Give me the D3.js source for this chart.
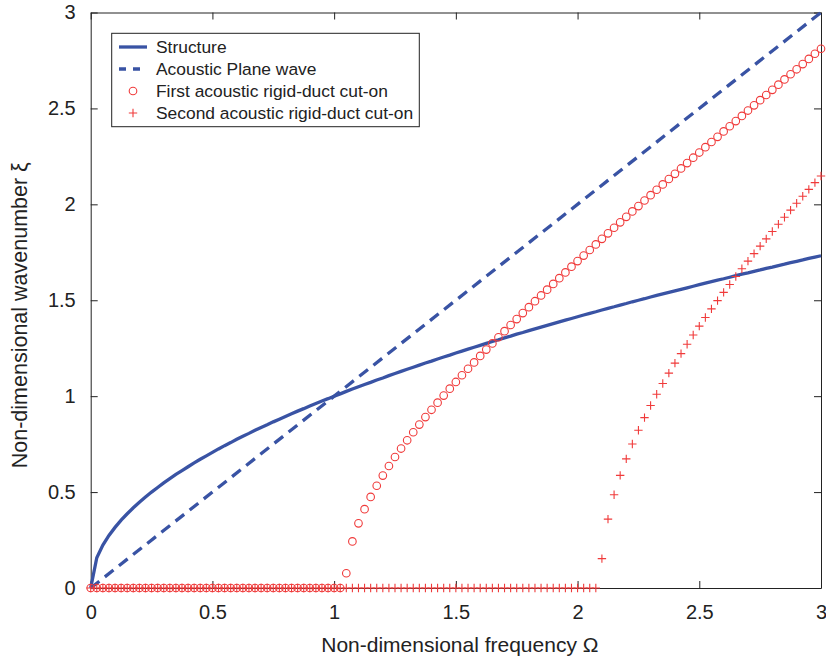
<!DOCTYPE html>
<html>
<head>
<meta charset="utf-8">
<style>
  body { margin: 0; background: #fff; }
  svg { display: block; font-family: "Liberation Sans", Arial, sans-serif; }
</style>
</head>
<body>
<script src="https://d3js.org/d3.v7.min.js"></script>
<script>
const omega = [
  0, 0.025, 0.05, 0.075, 0.1, 0.125, 0.15, 0.175, 0.2, 0.225,
  0.25, 0.275, 0.3, 0.325, 0.35, 0.375, 0.4, 0.425, 0.45, 0.475,
  0.5, 0.525, 0.55, 0.575, 0.6, 0.625, 0.65, 0.675, 0.7, 0.725,
  0.75, 0.775, 0.8, 0.825, 0.85, 0.875, 0.9, 0.925, 0.95, 0.975,
  1, 1.025, 1.05, 1.075, 1.1, 1.125, 1.15, 1.175, 1.2, 1.225,
  1.25, 1.275, 1.3, 1.325, 1.35, 1.375, 1.4, 1.425, 1.45, 1.475,
  1.5, 1.525, 1.55, 1.575, 1.6, 1.625, 1.65, 1.675, 1.7, 1.725,
  1.75, 1.775, 1.8, 1.825, 1.85, 1.875, 1.9, 1.925, 1.95, 1.975,
  2, 2.025, 2.05, 2.075, 2.1, 2.125, 2.15, 2.175, 2.2, 2.225,
  2.25, 2.275, 2.3, 2.325, 2.35, 2.375, 2.4, 2.425, 2.45, 2.475,
  2.5, 2.525, 2.55, 2.575, 2.6, 2.625, 2.65, 2.675, 2.7, 2.725,
  2.75, 2.775, 2.8, 2.825, 2.85, 2.875, 2.9, 2.925, 2.95, 2.975,
  3
];

const structure = [
  0, 0.158, 0.224, 0.274, 0.316, 0.354, 0.387, 0.418, 0.447, 0.474,
  0.5, 0.524, 0.548, 0.57, 0.592, 0.612, 0.632, 0.652, 0.671, 0.689,
  0.707, 0.725, 0.742, 0.758, 0.775, 0.791, 0.806, 0.822, 0.837, 0.851,
  0.866, 0.88, 0.894, 0.908, 0.922, 0.935, 0.949, 0.962, 0.975, 0.987,
  1, 1.012, 1.025, 1.037, 1.049, 1.061, 1.072, 1.084, 1.095, 1.107,
  1.118, 1.129, 1.14, 1.151, 1.162, 1.173, 1.183, 1.194, 1.204, 1.214,
  1.225, 1.235, 1.245, 1.255, 1.265, 1.275, 1.285, 1.294, 1.304, 1.313,
  1.323, 1.332, 1.342, 1.351, 1.36, 1.369, 1.378, 1.387, 1.396, 1.405,
  1.414, 1.423, 1.432, 1.44, 1.449, 1.458, 1.466, 1.475, 1.483, 1.492,
  1.5, 1.508, 1.517, 1.525, 1.533, 1.541, 1.549, 1.557, 1.565, 1.573,
  1.581, 1.589, 1.597, 1.605, 1.612, 1.62, 1.628, 1.636, 1.643, 1.651,
  1.658, 1.666, 1.673, 1.681, 1.688, 1.696, 1.703, 1.71, 1.718, 1.725,
  1.732
];

const planeOmega = [0, 3];
const planeWave = [0, 3];

const firstCutOn = [
  0, 0, 0, 0, 0, 0, 0, 0, 0, 0,
  0, 0, 0, 0, 0, 0, 0, 0, 0, 0,
  0, 0, 0, 0, 0, 0, 0, 0, 0, 0,
  0, 0, 0, 0, 0, 0, 0, 0, 0, 0,
  0, 0, 0.077, 0.243, 0.337, 0.411, 0.475, 0.533, 0.586, 0.636,
  0.683, 0.727, 0.77, 0.812, 0.852, 0.891, 0.929, 0.966, 1.003, 1.039,
  1.074, 1.109, 1.143, 1.176, 1.21, 1.243, 1.275, 1.307, 1.339, 1.371,
  1.402, 1.433, 1.464, 1.495, 1.525, 1.555, 1.585, 1.615, 1.645, 1.675,
  1.704, 1.733, 1.762, 1.791, 1.82, 1.849, 1.878, 1.906, 1.935, 1.963,
  1.991, 2.02, 2.048, 2.076, 2.104, 2.132, 2.159, 2.187, 2.215, 2.243,
  2.27, 2.298, 2.325, 2.352, 2.38, 2.407, 2.434, 2.461, 2.489, 2.516,
  2.543, 2.57, 2.597, 2.624, 2.651, 2.678, 2.704, 2.731, 2.758, 2.785,
  2.811
];

const secondCutOn = [
  0, 0, 0, 0, 0, 0, 0, 0, 0, 0,
  0, 0, 0, 0, 0, 0, 0, 0, 0, 0,
  0, 0, 0, 0, 0, 0, 0, 0, 0, 0,
  0, 0, 0, 0, 0, 0, 0, 0, 0, 0,
  0, 0, 0, 0, 0, 0, 0, 0, 0, 0,
  0, 0, 0, 0, 0, 0, 0, 0, 0, 0,
  0, 0, 0, 0, 0, 0, 0, 0, 0, 0,
  0, 0, 0, 0, 0, 0, 0, 0, 0, 0,
  0, 0, 0, 0, 0.153, 0.359, 0.486, 0.587, 0.673, 0.751,
  0.822, 0.888, 0.951, 1.01, 1.066, 1.12, 1.172, 1.222, 1.271, 1.319,
  1.365, 1.41, 1.455, 1.498, 1.541, 1.582, 1.624, 1.664, 1.704, 1.743,
  1.782, 1.82, 1.858, 1.896, 1.933, 1.97, 2.006, 2.042, 2.078, 2.113,
  2.148
];

const xTicks = [0, 0.5, 1, 1.5, 2, 2.5, 3];
const yTicks = [0, 0.5, 1, 1.5, 2, 2.5, 3];
const legendLabels = [
  "Structure",
  "Acoustic Plane wave",
  "First acoustic rigid-duct cut-on",
  "Second acoustic rigid-duct cut-on"
];

const W = 826, H = 659;
const mLeft = 90.7, mRight = 821, mTop = 12.5, mBottom = 588;
const blue = "#3953a4", red = "#f03a3a";

const svg = d3.select("body").append("svg")
  .attr("width", W)
  .attr("height", H);

const x = d3.scaleLinear().domain([0, 3]).range([mLeft, mRight]);
const y = d3.scaleLinear().domain([0, 3]).range([mBottom, mTop]);
const fmt = d3.format("~g");

// axes, ticks pointing inward
svg.append("g")
  .attr("transform", `translate(0,${mBottom})`)
  .call(d3.axisBottom(x).tickValues(xTicks).tickFormat(fmt).tickSizeInner(-7).tickSizeOuter(0).tickPadding(17))
  .call(g => g.selectAll("text").attr("font-size", 20).attr("fill", "#222"));

svg.append("g")
  .attr("transform", `translate(${mLeft},0)`)
  .call(d3.axisLeft(y).tickValues(yTicks).tickFormat(fmt).tickSizeInner(-7).tickSizeOuter(0).tickPadding(15))
  .call(g => g.selectAll("text").attr("font-size", 20).attr("fill", "#222"));

svg.append("g")
  .attr("transform", `translate(0,${mTop})`)
  .call(d3.axisTop(x).tickValues(xTicks).tickFormat("").tickSizeInner(-7).tickSizeOuter(0));

svg.append("g")
  .attr("transform", `translate(${mRight},0)`)
  .call(d3.axisRight(y).tickValues(yTicks).tickFormat("").tickSizeInner(-7).tickSizeOuter(0));

svg.selectAll("g").attr("font-family", null);
svg.selectAll(".domain, .tick line").attr("stroke", "#222");

svg.append("text")
  .attr("x", (mLeft + mRight) / 2 + 4)
  .attr("y", 652)
  .attr("text-anchor", "middle")
  .attr("font-size", 21)
  .attr("fill", "#222")
  .text("Non-dimensional frequency Ω");

svg.append("text")
  .attr("transform", `translate(27,${(mTop + mBottom) / 2 + 15}) rotate(-90)`)
  .attr("text-anchor", "middle")
  .attr("font-size", 21.5)
  .attr("fill", "#222")
  .text("Non-dimensional wavenumber ξ");

// curves
const line = d3.line().x(d => x(d[0])).y(d => y(d[1]));

svg.append("path")
  .datum(omega.map((w, i) => [w, structure[i]]))
  .attr("d", line)
  .attr("fill", "none")
  .attr("stroke", blue)
  .attr("stroke-width", 3.3);

svg.append("path")
  .datum(planeOmega.map((w, i) => [w, planeWave[i]]))
  .attr("d", line)
  .attr("fill", "none")
  .attr("stroke", blue)
  .attr("stroke-width", 3.3)
  .attr("stroke-dasharray", "11,7");

svg.append("g").selectAll("circle")
  .data(omega.map((w, i) => [w, firstCutOn[i]]))
  .enter()
  .append("circle")
  .attr("cx", d => x(d[0]))
  .attr("cy", d => y(d[1]))
  .attr("r", 3.8)
  .attr("fill", "none")
  .attr("stroke", red)
  .attr("stroke-width", 1.1);

svg.append("g").selectAll("path")
  .data(omega.map((w, i) => [w, secondCutOn[i]]))
  .enter()
  .append("path")
  .attr("transform", d => `translate(${x(d[0])},${y(d[1])})`)
  .attr("d", "M-4.2,0H4.2M0,-4.2V4.2")
  .attr("fill", "none")
  .attr("stroke", red)
  .attr("stroke-width", 1.1);

// legend
const legend = svg.append("g").attr("id", "legend");

legend.append("rect")
  .attr("x", 111.7)
  .attr("y", 33.3)
  .attr("width", 307.6)
  .attr("height", 93.4)
  .attr("fill", "#fff")
  .attr("stroke", "#222")
  .attr("stroke-width", 1);

const rowY = i => 47 + i * 22;

legend.append("line")
  .attr("x1", 119).attr("x2", 147)
  .attr("y1", rowY(0)).attr("y2", rowY(0))
  .attr("stroke", blue).attr("stroke-width", 3.3);

legend.append("line")
  .attr("x1", 119).attr("x2", 147)
  .attr("y1", rowY(1)).attr("y2", rowY(1))
  .attr("stroke", blue).attr("stroke-width", 3.3)
  .attr("stroke-dasharray", "7,7");

legend.append("circle")
  .attr("cx", 133).attr("cy", rowY(2)).attr("r", 3.8)
  .attr("fill", "none").attr("stroke", red).attr("stroke-width", 1.1);

legend.append("path")
  .attr("transform", `translate(133,${rowY(3)})`)
  .attr("d", "M-4.2,0H4.2M0,-4.2V4.2")
  .attr("stroke", red).attr("stroke-width", 1.1);

legend.selectAll("text")
  .data(legendLabels)
  .enter()
  .append("text")
  .attr("x", 156)
  .attr("y", (d, i) => rowY(i))
  .attr("dy", "0.35em")
  .attr("font-size", 17.4)
  .attr("fill", "#222")
  .text(d => d);
</script>
</body>
</html>
